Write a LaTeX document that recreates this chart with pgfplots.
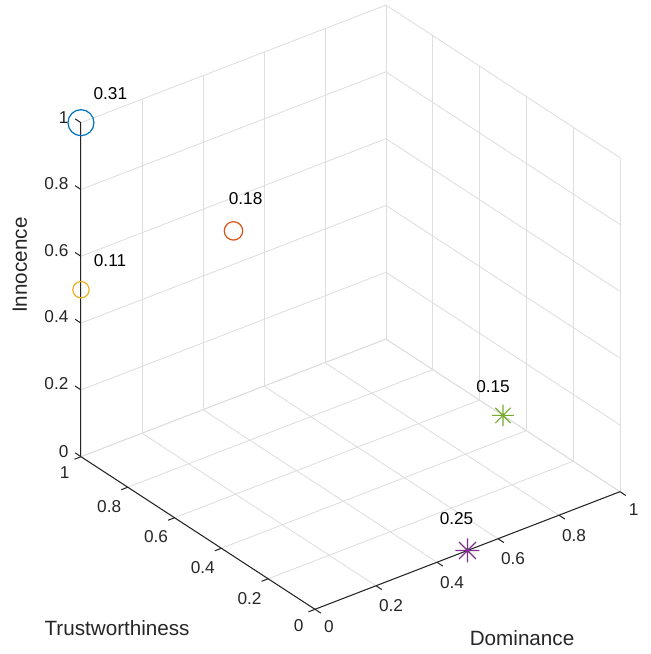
\documentclass[border=0pt]{standalone}
\usepackage{pgfplots}
\pgfplotsset{compat=1.18}
\usepackage{fontspec}
\setmainfont{Liberation Sans}
\definecolor{mblue}{rgb}{0,0.447,0.741}
\definecolor{morange}{rgb}{0.85,0.325,0.098}
\definecolor{myellow}{rgb}{0.929,0.694,0.125}
\definecolor{mpurple}{rgb}{0.494,0.184,0.556}
\definecolor{mgreen}{rgb}{0.466,0.674,0.188}
\definecolor{axgray}{rgb}{0.15,0.15,0.15}
\pgfdeclareplotmark{mstar}{%
 \pgfpathmoveto{\pgfqpoint{-\pgfplotmarksize}{0pt}}\pgfpathlineto{\pgfqpoint{\pgfplotmarksize}{0pt}}%
 \pgfpathmoveto{\pgfqpoint{0pt}{-\pgfplotmarksize}}\pgfpathlineto{\pgfqpoint{0pt}{\pgfplotmarksize}}%
 \pgfpathmoveto{\pgfqpoint{-0.707\pgfplotmarksize}{-0.707\pgfplotmarksize}}\pgfpathlineto{\pgfqpoint{0.707\pgfplotmarksize}{0.707\pgfplotmarksize}}%
 \pgfpathmoveto{\pgfqpoint{-0.707\pgfplotmarksize}{0.707\pgfplotmarksize}}\pgfpathlineto{\pgfqpoint{0.707\pgfplotmarksize}{-0.707\pgfplotmarksize}}%
 \pgfusepathqstroke}
\begin{document}
\begin{tikzpicture}
\begin{axis}[
 x={(177.2pt,68.33pt)}, y={(-135.95pt,88.66pt)}, z={(0pt,194.05pt)},
 xmin=0,xmax=1,ymin=0,ymax=1,zmin=0,zmax=1,
 xtick={0,0.2,0.4,0.6,0.8,1},
 ytick={0,0.2,0.4,0.6,0.8,1},
 ztick={0,0.2,0.4,0.6,0.8,1},
 /pgf/number format/assume math mode=true,
 grid=major,
 major grid style={color=black!13, line width=0.5pt},
 axis line style={draw=none},
 tick pos=left,
 major tick style={draw=none},
 tick align=outside,
 major tick length=4.5pt,
 ticklabel style={font=\fontsize{10}{12}\selectfont, text=axgray},
 label style={font=\fontsize{12}{14}\selectfont, text=axgray},
 xlabel={Dominance},
 ylabel={Trustworthiness},
 zlabel={Innocence},
 xlabel style={at={(rel axis cs:0.336,-0.447,0)}, anchor=center},
 ylabel style={at={(rel axis cs:-0.467,0.237,0)}, anchor=center},
 zlabel style={at={(rel axis cs:-0.2,1,0.644)}, anchor=center, rotate=0},
 clip=false,
]
\addplot3[only marks, mark=o, mark size=7.55pt, color=mblue, line width=0.7pt] coordinates {(0,1,1)};
\addplot3[only marks, mark=o, mark size=5.35pt, color=morange, line width=0.7pt] coordinates {(0.5,1,0.5)};
\addplot3[only marks, mark=o, mark size=4.76pt, color=myellow, line width=0.7pt] coordinates {(0,1,0.5)};
\addplot3[only marks, mark=mstar, mark size=6.97pt, color=mpurple, line width=0.7pt] coordinates {(0.5,0,0)};
\addplot3[only marks, mark=mstar, mark size=6.27pt, color=mgreen, line width=0.7pt] coordinates {(1,0.5,0)};
\draw[axgray, line width=0.6pt] (axis cs:0,0,0) -- (axis cs:1,0,0);
\draw[axgray, line width=0.6pt] (axis cs:0,0,0) -- (axis cs:0,1,0);
\draw[axgray, line width=0.6pt] (axis cs:0,1,0) -- (axis cs:0,1,1);
\pgfplotsinvokeforeach{0,0.2,0.4,0.6,0.8,1}{%
 \draw[axgray, line width=0.6pt] (axis cs:#1,0,0) -- (axis cs:#1,-0.025,0);
 \draw[axgray, line width=0.6pt] (axis cs:0,#1,0) -- (axis cs:-0.0214,#1,0);
 \draw[axgray, line width=0.6pt] (axis cs:0,1,#1) -- (axis cs:0,1.025,#1);
}
\node[anchor=west, inner sep=0pt, font=\fontsize{10}{12}\selectfont, xshift=7.15pt, yshift=16.67pt] at (axis cs:0,1,1) {0.31};
\node[anchor=west, inner sep=0pt, font=\fontsize{10}{12}\selectfont, xshift=-2.9pt, yshift=19.0pt] at (axis cs:0.5,1,0.5) {0.18};
\node[anchor=west, inner sep=0pt, font=\fontsize{10}{12}\selectfont, xshift=7.32pt, yshift=16.85pt] at (axis cs:0,1,0.5) {0.11};
\node[anchor=west, inner sep=0pt, font=\fontsize{10}{12}\selectfont, xshift=-16.27pt, yshift=18.82pt] at (axis cs:0.5,0,0) {0.25};
\node[anchor=west, inner sep=0pt, font=\fontsize{10}{12}\selectfont, xshift=-15.69pt, yshift=16.5pt] at (axis cs:1,0.5,0) {0.15};
\coordinate (O) at (axis cs:0,0,0);
\end{axis}
\pgfresetboundingbox
\path ([shift={(-183.0pt,354.0pt)}]O) rectangle ([shift={(195.2pt,-25.97pt)}]O);
\end{tikzpicture}
\end{document}
